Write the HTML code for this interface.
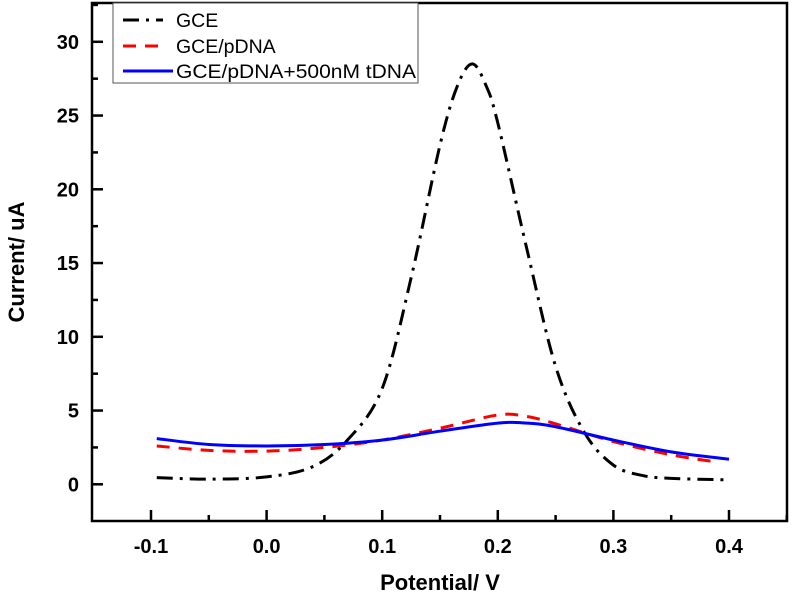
<!DOCTYPE html>
<html><head><meta charset="utf-8"><style>
body{margin:0;background:#fff}
svg{display:block;font-family:"Liberation Sans",Arial,sans-serif}
</style></head><body>
<svg id="chart" width="793" height="598">
<rect x="92" y="3" width="695" height="518" fill="none" stroke="#000" stroke-width="2.5"/>
<g id="axes"></g>
<g id="series"></g>
<text x="440" y="590" font-size="22" font-weight="bold" text-anchor="middle">Potential/ V</text>
<text transform="translate(24,262) rotate(-90)" font-size="22" font-weight="bold" text-anchor="middle">Current/ uA</text>
<g>
<rect x="113" y="3" width="305" height="80" fill="#fff" stroke="#555" stroke-width="1"/>
<g><line x1="123" y1="20" x2="163" y2="20" stroke="#000" stroke-width="3" stroke-dasharray="16,7,3,7"/><text x="176" y="27" font-size="19.5">GCE</text></g>
<g><line x1="123" y1="46" x2="167" y2="46" stroke="#f00" stroke-width="3" stroke-dasharray="13,9"/><text x="176" y="53" font-size="19.5">GCE/pDNA</text></g>
<g><line x1="123" y1="71" x2="173" y2="71" stroke="#00f" stroke-width="3"/><text x="176" y="78" font-size="19.5" textLength="240" lengthAdjust="spacingAndGlyphs">GCE/pDNA+500nM tDNA</text></g>
</g>
</svg>
<script>
const gceX=[-0.095,-0.05,0,0.04,0.07,0.1,0.125,0.15,0.165,0.178,0.19,0.2,0.225,0.25,0.275,0.3,0.325,0.35,0.4];
const gceY=[0.45,0.35,0.5,1.2,3,6.5,14,23,27,28.5,27,24.5,16,8,3.5,1.3,0.6,0.4,0.3];
const pX=[-0.095,-0.05,0,0.05,0.1,0.15,0.2,0.225,0.25,0.3,0.35,0.39];
const pY=[2.6,2.3,2.25,2.5,3.0,3.8,4.7,4.6,4.1,2.9,2.0,1.5];
const tX=[-0.095,-0.05,0,0.05,0.1,0.15,0.2,0.225,0.25,0.3,0.35,0.4];
const tY=[3.1,2.7,2.6,2.7,3.0,3.6,4.15,4.15,3.9,3.0,2.2,1.7];
const xTicks=[-0.1,0.0,0.1,0.2,0.3,0.4];
const xLabels=["-0.1","0.0","0.1","0.2","0.3","0.4"];
const yTicks=[0,5,10,15,20,25,30];
const NS="http://www.w3.org/2000/svg";
const X=v=>151+(v+0.1)*1156;
const Y=v=>484.3-v*14.75;
const axes=document.getElementById('axes');
function mk(tag,attrs,parent){const e=document.createElementNS(NS,tag);for(const k in attrs)e.setAttribute(k,attrs[k]);parent.appendChild(e);return e;}
xTicks.forEach((v,i)=>{
  const t=mk('line',{x1:X(v),x2:X(v),y1:521,y2:510,stroke:'#000','stroke-width':2.5},axes);
  
  
  const m=mk('line',{x1:X(v+0.05),x2:X(v+0.05),y1:521,y2:515,stroke:'#000','stroke-width':2.5},axes);
  
  
  const l=mk('text',{x:X(v),y:553,'font-size':20,'font-weight':'bold','text-anchor':'middle'},axes);
  l.textContent=xLabels[i];
  
  
});
yTicks.forEach(v=>{
  const t=mk('line',{x1:92,x2:103,y1:Y(v),y2:Y(v),stroke:'#000','stroke-width':2.5},axes);
  
  
  const m=mk('line',{x1:92,x2:98,y1:Y(v+2.5),y2:Y(v+2.5),stroke:'#000','stroke-width':2.5},axes);
  
  
  const l=mk('text',{x:79,y:Y(v)+7,'font-size':20,'font-weight':'bold','text-anchor':'end'},axes);
  l.textContent=String(v);
  
  
});
function path(xs,ys){
  const p=xs.map((x,i)=>[X(x),Y(ys[i])]);
  let d='M'+p[0][0]+','+p[0][1];
  for(let i=0;i<p.length-1;i++){
    const p0=p[i-1]||p[i],p1=p[i],p2=p[i+1],p3=p[i+2]||p2;
    d+=` C${p1[0]+(p2[0]-p0[0])/6},${p1[1]+(p2[1]-p0[1])/6} ${p2[0]-(p3[0]-p1[0])/6},${p2[1]-(p3[1]-p1[1])/6} ${p2[0]},${p2[1]}`;
  }
  return d;
}
const s=document.getElementById('series');
const a=mk('path',{d:path(gceX,gceY),fill:'none',stroke:'#000','stroke-width':3,'stroke-dasharray':'16,7,3,7'},s);


const b=mk('path',{d:path(pX,pY),fill:'none',stroke:'#f00','stroke-width':3,'stroke-dasharray':'13,9'},s);


const c=mk('path',{d:path(tX,tY),fill:'none',stroke:'#00f','stroke-width':3},s);


</script>
</body></html>
